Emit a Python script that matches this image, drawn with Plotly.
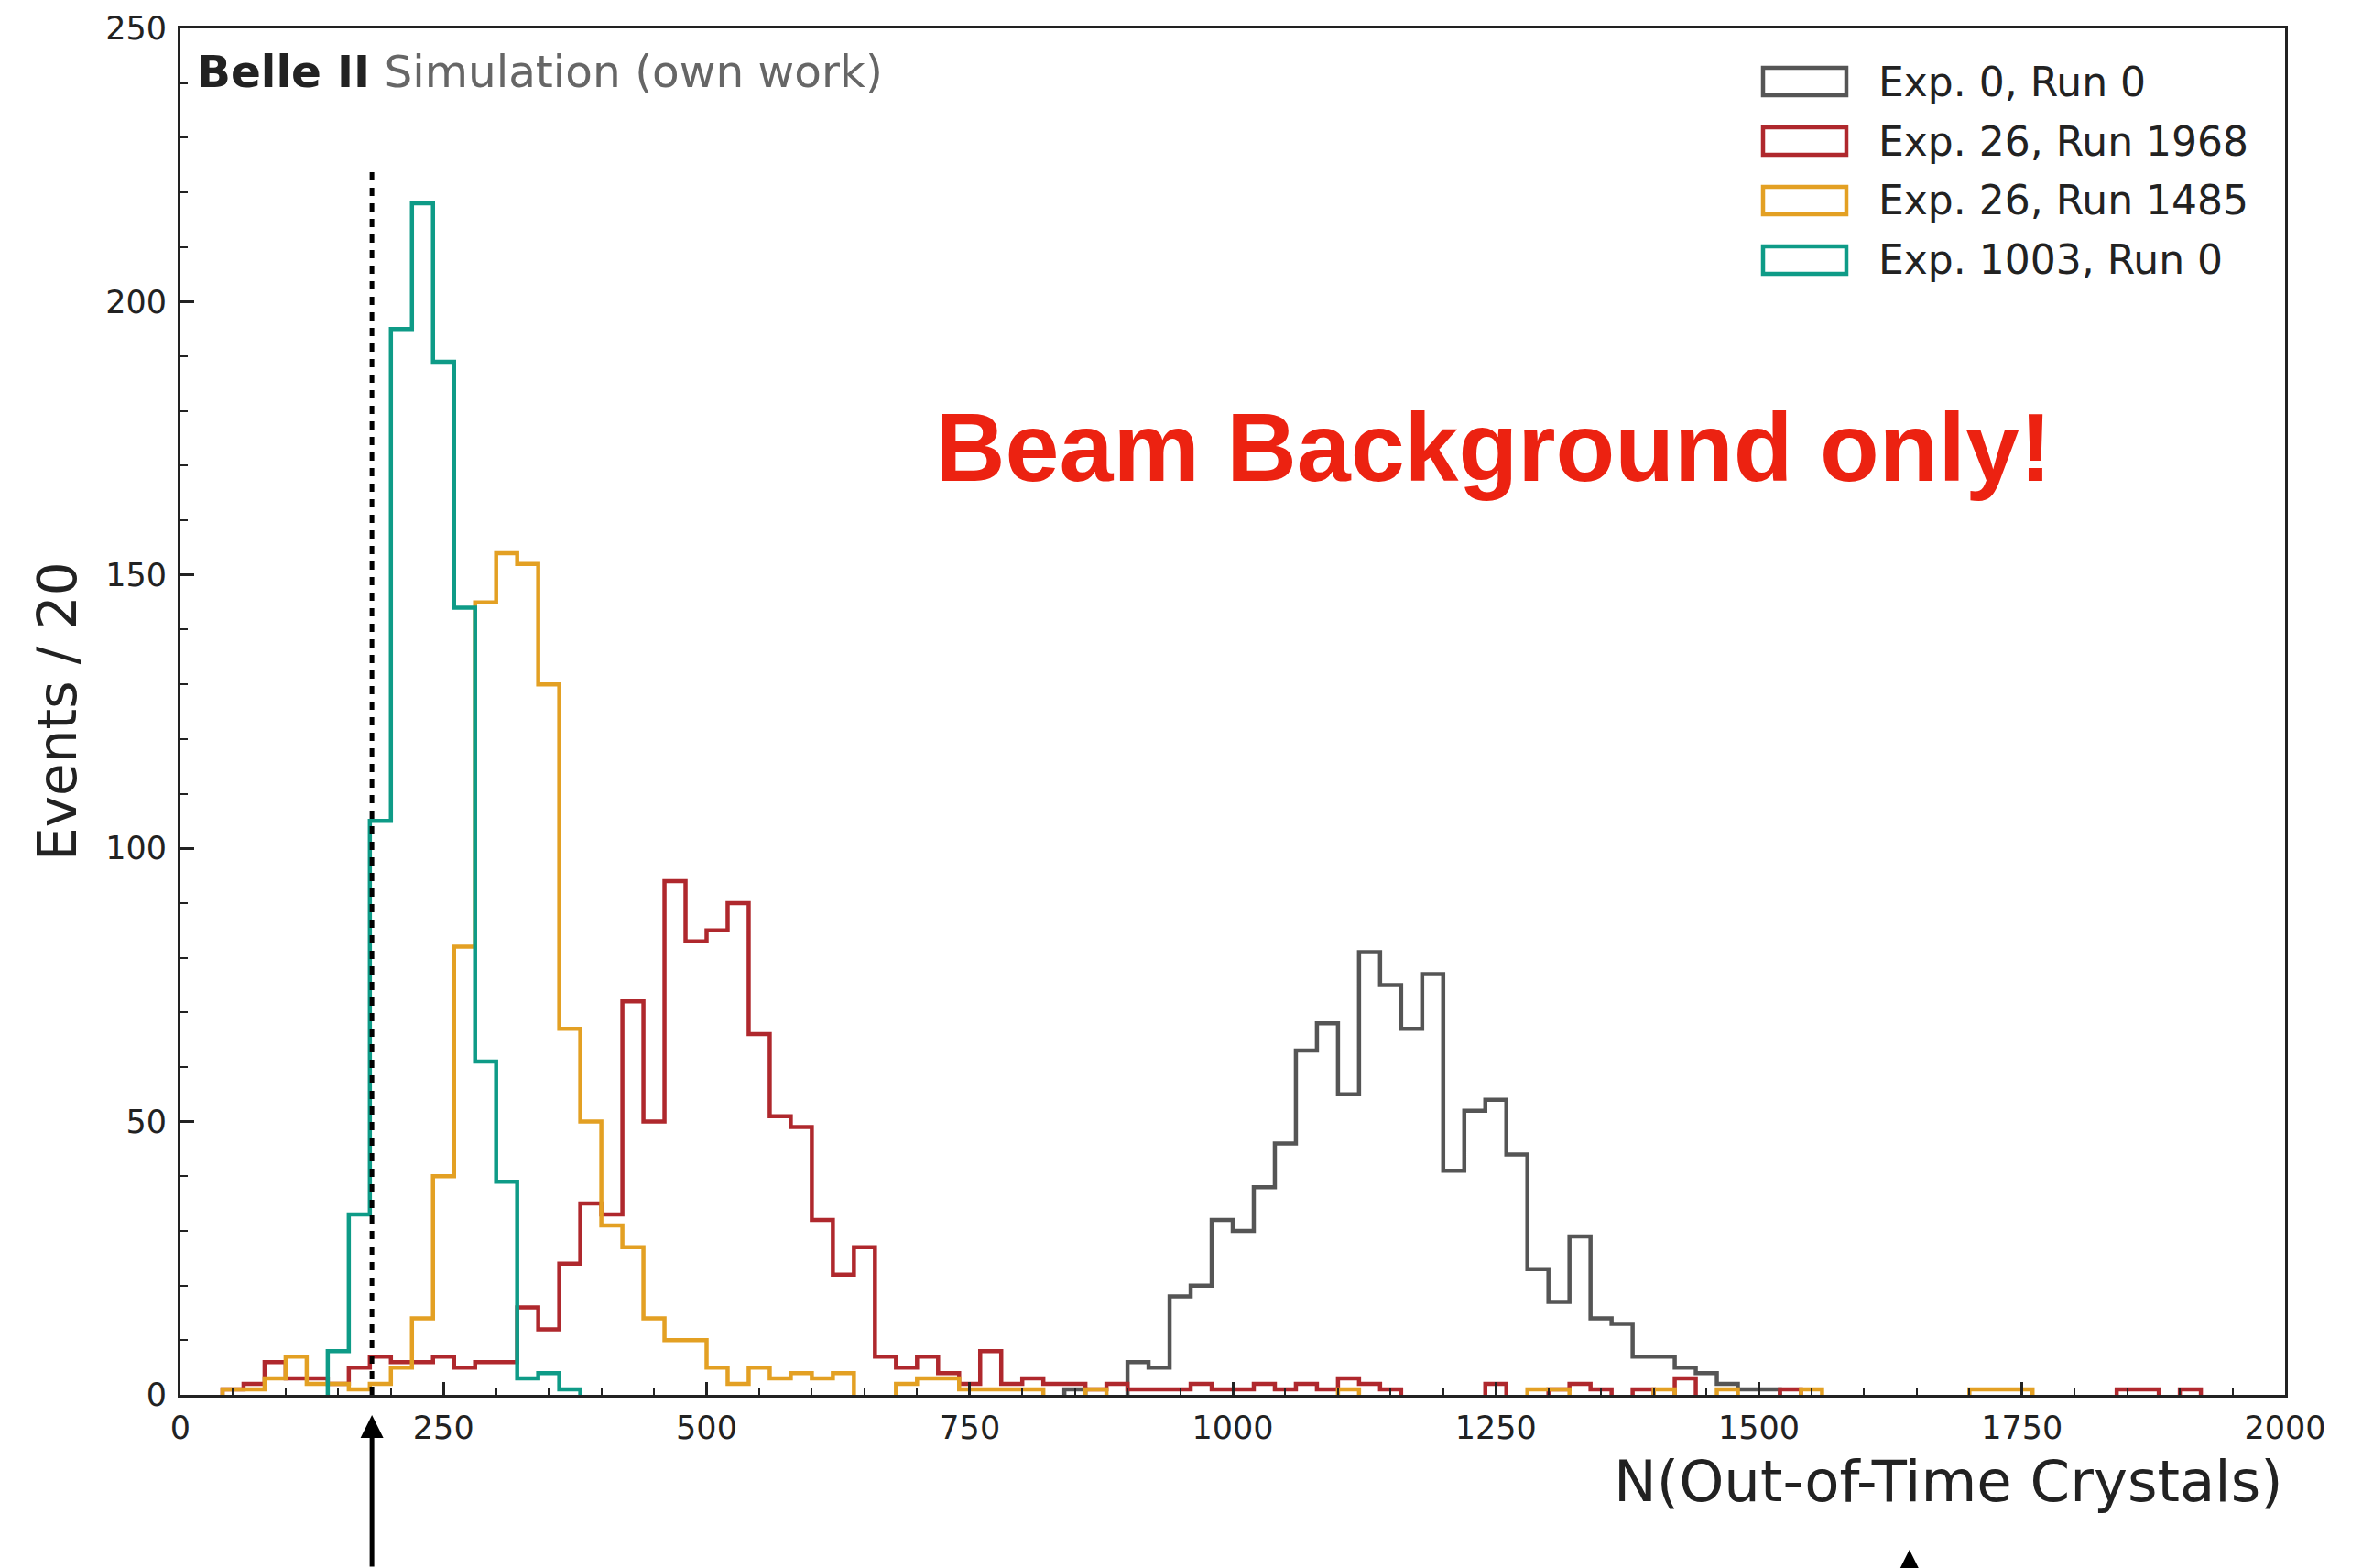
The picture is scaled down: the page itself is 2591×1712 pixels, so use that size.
import plotly.graph_objects as go

# ---------------- data ----------------
bin_edges = list(range(0, 2001, 20))   # 100 bins of width 20

counts_exp0_run0 = [
    0, 0, 0, 0, 0, 0, 0, 0, 0, 0,
    0, 0, 0, 0, 0, 0, 0, 0, 0, 0,
    0, 0, 0, 0, 0, 0, 0, 0, 0, 0,
    0, 0, 0, 0, 0, 0, 0, 0, 0, 0,
    0, 0, 1, 0, 0, 6, 5, 18, 20, 32,
    30, 38, 46, 63, 68, 55, 81, 75, 67, 77,
    41, 52, 54, 44, 23, 17, 29, 14, 13, 7,
    7, 5, 4, 2, 1, 1, 0, 0, 0, 0,
    0, 0, 0, 0, 0, 0, 0, 0, 0, 0,
    0, 0, 0, 0, 0, 0, 0, 0, 0, 0,
]
counts_exp26_run1968 = [
    0, 0, 1, 2, 6, 3, 3, 2, 5, 7,
    6, 6, 7, 5, 6, 6, 16, 12, 24, 35,
    33, 72, 50, 94, 83, 85, 90, 66, 51, 49,
    32, 22, 27, 7, 5, 7, 4, 2, 8, 2,
    3, 2, 2, 1, 2, 1, 1, 1, 2, 1,
    1, 2, 1, 2, 1, 3, 2, 1, 0, 0,
    0, 0, 2, 0, 0, 1, 2, 1, 0, 1,
    0, 3, 0, 0, 0, 0, 1, 0, 0, 0,
    0, 0, 0, 0, 0, 0, 0, 0, 0, 0,
    0, 0, 1, 1, 0, 1, 0, 0, 0, 0,
]
counts_exp26_run1485 = [
    0, 0, 1, 1, 3, 7, 2, 2, 1, 2,
    5, 14, 40, 82, 145, 154, 152, 130, 67, 50,
    31, 27, 14, 10, 10, 5, 2, 5, 3, 4,
    3, 4, 0, 0, 2, 3, 3, 1, 1, 1,
    1, 0, 0, 1, 0, 0, 0, 0, 0, 0,
    0, 0, 0, 0, 0, 1, 0, 0, 0, 0,
    0, 0, 0, 0, 1, 1, 0, 0, 0, 0,
    1, 0, 0, 1, 0, 0, 0, 1, 0, 0,
    0, 0, 0, 0, 0, 1, 1, 1, 0, 0,
    0, 0, 0, 0, 0, 0, 0, 0, 0, 0,
]
counts_exp1003_run0 = [
    0, 0, 0, 0, 0, 0, 0, 8, 33, 105,
    195, 218, 189, 144, 61, 39, 3, 4, 1, 0,
    0, 0, 0, 0, 0, 0, 0, 0, 0, 0,
    0, 0, 0, 0, 0, 0, 0, 0, 0, 0,
    0, 0, 0, 0, 0, 0, 0, 0, 0, 0,
    0, 0, 0, 0, 0, 0, 0, 0, 0, 0,
    0, 0, 0, 0, 0, 0, 0, 0, 0, 0,
    0, 0, 0, 0, 0, 0, 0, 0, 0, 0,
    0, 0, 0, 0, 0, 0, 0, 0, 0, 0,
    0, 0, 0, 0, 0, 0, 0, 0, 0, 0,
]

series_names = ["Exp. 0, Run 0", "Exp. 26, Run 1968", "Exp. 26, Run 1485", "Exp. 1003, Run 0"]
series_counts = [counts_exp0_run0, counts_exp26_run1968, counts_exp26_run1485, counts_exp1003_run0]
series_colors = ["#555555", "#AF282D", "#E3A023", "#0E9B87"]

cut_value = 182      # dotted cut line position
cut_top = 224        # dotted line height
arrow2_value = 1643  # second arrow position

x_range = [0, 2000]
y_range = [0, 250]

# ---------------- layout helpers ----------------
W, H = 2591, 1712
L, R, T, B = 197, 96, 31, 189
PW = W - L - R
PH = H - T - B


def px(xp):
    return (xp - L) / PW


def py(yp):
    return (H - B - yp) / PH


def step_xy(counts):
    xs, ys = [], []
    n = len(counts)
    i = 0
    while i < n:
        if counts[i] == 0:
            i += 1
            continue
        j = i
        while j < n and counts[j] > 0:
            j += 1
        xs.append(bin_edges[i]); ys.append(0)
        for k in range(i, j):
            xs.append(bin_edges[k]); ys.append(counts[k])
        xs.append(bin_edges[j]); ys.append(0)
        xs.append(None); ys.append(None)
        i = j
    return xs, ys


FONT = "DejaVu Sans"
DARK = "#222222"

fig = go.Figure()
for name, counts, color in zip(series_names, series_counts, series_colors):
    xs, ys = step_xy(counts)
    fig.add_trace(go.Scatter(x=xs, y=ys, mode="lines", name=name,
                             line=dict(color=color, width=4.5, shape="hv"),
                             showlegend=False, hoverinfo="skip"))

fig.add_trace(go.Scatter(x=[cut_value, cut_value], y=[0, cut_top], mode="lines",
                         line=dict(color="black", width=5, dash="9px,8px"),
                         showlegend=False, hoverinfo="skip"))

shapes = []
annotations = []

# manual legend
row_centers = [89, 154, 219, 284]
for yc, name, color in zip(row_centers, series_names, series_colors):
    shapes.append(dict(type="rect", xref="paper", yref="paper",
                       x0=px(1925), x1=px(2016), y0=py(yc + 15), y1=py(yc - 15),
                       line=dict(color=color, width=4.5), fillcolor="rgba(0,0,0,0)"))
    annotations.append(dict(xref="paper", yref="paper", x=px(2049), y=py(yc),
                            xanchor="left", yanchor="middle", showarrow=False,
                            text=name, font=dict(family=FONT, size=44, color=DARK)))

# Belle II label
annotations.append(dict(xref="paper", yref="paper", x=px(213), y=py(78),
                        xanchor="left", yanchor="middle", showarrow=False,
                        text="<b>Belle II</b> <span style='color:#666666'>Simulation (own work)</span>",
                        font=dict(family=FONT, size=48.5, color=DARK)))

# big red note
annotations.append(dict(xref="paper", yref="paper", x=px(1019), y=py(488),
                        xanchor="left", yanchor="middle", showarrow=False,
                        text="<b>Beam Background only!</b>",
                        font=dict(family="Liberation Sans", size=106, color="#EC2211")))

# axis titles
annotations.append(dict(xref="paper", yref="paper", x=px(2495), y=py(1617),
                        xanchor="right", yanchor="middle", showarrow=False,
                        text="N(Out-of-Time Crystals)",
                        font=dict(family=FONT, size=62.5, color=DARK)))
annotations.append(dict(xref="paper", yref="paper", x=px(63), y=0.5,
                        xanchor="center", yanchor="middle", showarrow=False,
                        textangle=-90, text="Events / 20",
                        font=dict(family=FONT, size=58, color=DARK)))

# arrows below the axis
annotations.append(dict(xref="x", yref="paper", x=cut_value, y=py(1545),
                        ax=0, ay=260, showarrow=True, arrowhead=2, arrowsize=1,
                        arrowwidth=5, arrowcolor="black", text=""))
annotations.append(dict(xref="x", yref="paper", x=arrow2_value, y=py(1692),
                        ax=0, ay=260, showarrow=True, arrowhead=2, arrowsize=1,
                        arrowwidth=5, arrowcolor="black", text=""))

axis_common = dict(showgrid=False, zeroline=False, showline=True, linewidth=3,
                   linecolor=DARK, mirror=True, ticks="inside", tickcolor=DARK,
                   tickfont=dict(family=FONT, size=35, color=DARK))

fig.update_layout(
    width=W, height=H,
    margin=dict(l=L, r=R, t=T, b=B, autoexpand=False),
    paper_bgcolor="white", plot_bgcolor="white",
    showlegend=False,
    xaxis=dict(range=x_range, tick0=0, dtick=250, ticklen=14, tickwidth=2.5,
               minor=dict(dtick=50, ticks="inside", ticklen=7, tickwidth=2, tickcolor=DARK),
               ticklabelstandoff=3, **axis_common),
    yaxis=dict(range=y_range, tick0=0, dtick=50, ticklen=15, tickwidth=2.5,
               minor=dict(dtick=10, ticks="inside", ticklen=8, tickwidth=2, tickcolor=DARK),
               ticklabelstandoff=5, **axis_common),
    shapes=shapes,
    annotations=annotations,
    font=dict(family=FONT),
)

fig.write_html("out.html")
